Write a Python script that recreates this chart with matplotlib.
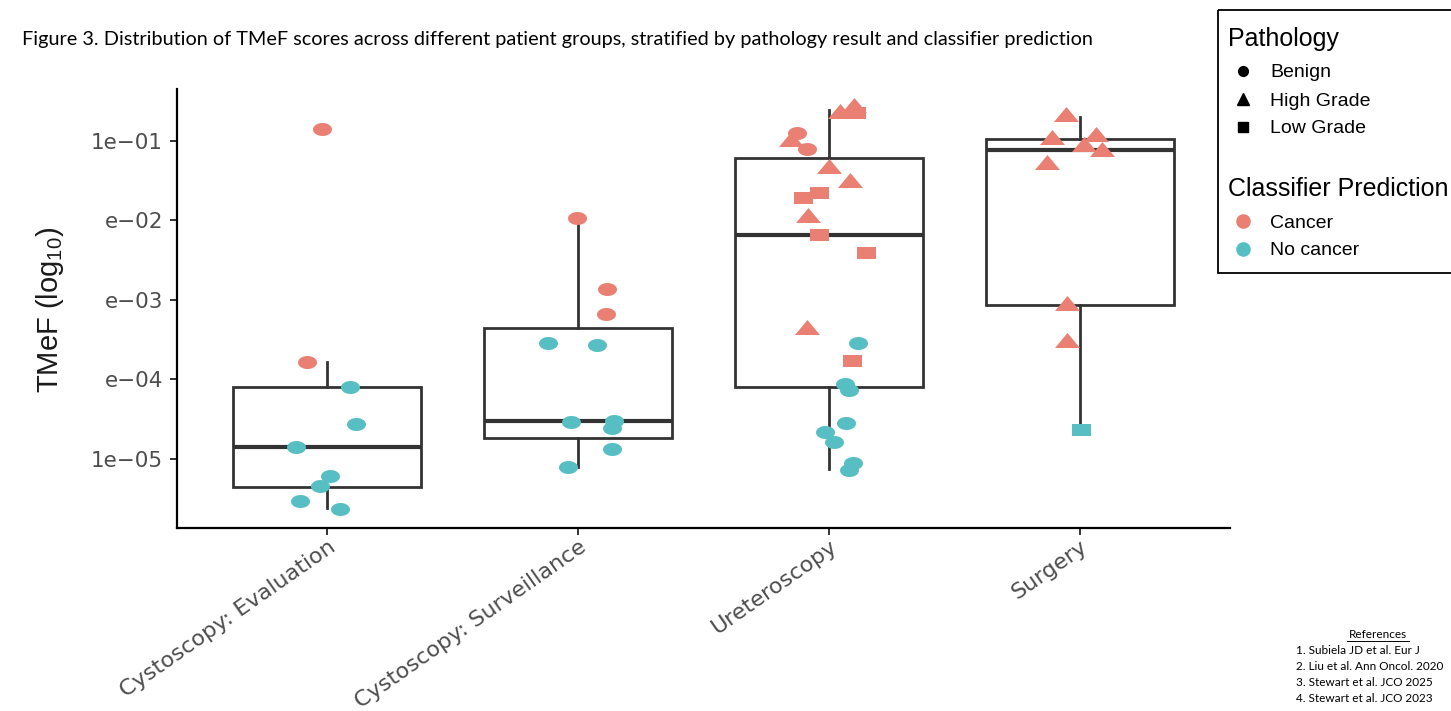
import numpy as np
import matplotlib
matplotlib.use("Agg")
import matplotlib.pyplot as plt
from matplotlib.path import Path
from matplotlib.patches import Rectangle
from matplotlib.ticker import NullLocator
from matplotlib.transforms import ScaledTranslation

plt.rcParams["mathtext.fontset"] = "custom"
plt.rcParams["mathtext.rm"] = "Liberation Sans"
plt.rcParams["mathtext.it"] = "Liberation Sans"

W, H, DPI = 1451, 711, 100

groups = ["Cystoscopy: Evaluation", "Cystoscopy: Surveillance", "Ureteroscopy", "Surgery"]

# box statistics, log10(TMeF)
box_lo = [-5.616, -5.097, -5.126, -4.635]
box_q1 = [-5.350, -4.736, -4.090, -3.063]
box_med = [-4.849, -4.518, -2.182, -1.117]
box_q3 = [-4.094, -3.356, -1.218, -0.971]
box_hi = [-3.780, -1.965, -0.610, -0.694]

# individual samples
pt_group = [1] * 9 + [2] * 10 + [3] * 23 + [4] * 9
pt_log_tmef = [
    -0.849, -3.776, -4.094, -4.556, -4.849, -5.214, -5.344, -5.528, -5.629,
    -1.965, -2.866, -3.180, -3.537, -3.570, -4.535, -4.518, -4.610, -4.878, -5.097,
    -0.619, -0.547, -0.652, -0.979, -0.903, -1.101, -1.314, -1.491, -1.650, -1.713,
    -1.931, -2.182, -2.413, -3.336, -3.545, -3.764, -4.061, -4.132, -4.551, -4.656,
    -4.782, -5.054, -5.138,
    -0.660, -0.946, -0.912, -1.038, -1.097, -1.260, -3.042, -3.503, -4.635,
]
pt_pathology = (
    ["Benign"] * 9
    + ["Benign"] * 10
    + ["High Grade", "High Grade", "Low Grade", "High Grade", "Benign", "Benign",
       "High Grade", "High Grade", "Low Grade", "Low Grade", "High Grade", "Low Grade",
       "Low Grade", "High Grade", "Benign", "Low Grade", "Benign", "Benign", "Benign",
       "Benign", "Benign", "Benign", "Benign"]
    + ["High Grade"] * 8 + ["Low Grade"]
)
pt_prediction = (
    ["Cancer"] * 2 + ["No cancer"] * 7
    + ["Cancer"] * 3 + ["No cancer"] * 7
    + ["Cancer"] * 14 + ["No cancer", "Cancer"] + ["No cancer"] * 7
    + ["Cancer"] * 8 + ["No cancer"]
)
pt_jitter = [
    -0.021, -0.081, 0.092, 0.114, -0.125, 0.011, -0.031, -0.108, 0.049,
    -0.006, 0.116, 0.110, -0.119, 0.075, -0.029, 0.142, 0.136, 0.136, -0.042,
    0.045, 0.099, 0.109, -0.152, -0.129, -0.088, -0.001, 0.083, -0.041, -0.105,
    -0.085, -0.041, 0.150, -0.088, 0.118, 0.093, 0.065, 0.079, 0.069, -0.016,
    0.021, 0.095, 0.079,
    -0.056, -0.108, 0.065, 0.017, 0.091, -0.129, -0.049, -0.052, 0.007,
]

ytick_vals = [1e-1, 1e-2, 1e-3, 1e-4, 1e-5]
ytick_labels = ["1e\u221201", "e\u221202", "e\u221203", "e\u221204", "1e\u221205"]

colors = {"Cancer": "#E98073", "No cancer": "#57BFC3"}
dark = "#333333"
gray_txt = "#4D4D4D"


def px_marker(verts):
    # marker path given in pixels; returns path and size in points
    verts = np.asarray(verts, float)
    size = 2 * np.abs(verts).max() * 72 / DPI
    return Path(np.vstack([verts, verts[:1]]), closed=True), size


t = np.linspace(0, 2 * np.pi, 64)[:-1]
shapes = {
    "Benign": px_marker(np.column_stack([9.5 * np.cos(t), 6.5 * np.sin(t)])),
    "High Grade": px_marker([(-12.5, -7.5), (12.5, -7.5), (0, 7.5)]),
    "Low Grade": px_marker([(-9.5, -6.5), (9.5, -6.5), (9.5, 6.5), (-9.5, 6.5)]),
}

fig = plt.figure(figsize=(W / DPI, H / DPI), dpi=DPI)
ax = fig.add_axes([177 / W, 1 - 528 / H, (1230 - 177) / W, (528 - 89) / H])

stats = []
for i in range(len(groups)):
    stats.append(dict(med=10 ** box_med[i], q1=10 ** box_q1[i], q3=10 ** box_q3[i],
                      whislo=10 ** box_lo[i], whishi=10 ** box_hi[i], fliers=[]))
ax.bxp(stats, positions=[1, 2, 3, 4], widths=0.75, showcaps=False, showfliers=False,
       patch_artist=True,
       boxprops=dict(facecolor="white", edgecolor=dark, linewidth=2.0),
       whiskerprops=dict(color=dark, linewidth=2.0),
       medianprops=dict(color=dark, linewidth=3.0, solid_capstyle="butt"))

xs = np.array(pt_group) + np.array(pt_jitter)
ys = 10 ** np.array(pt_log_tmef)
for i in range(len(xs)):
    path, size = shapes[pt_pathology[i]]
    ax.scatter(xs[i], ys[i], marker=path, s=size ** 2, color=colors[pt_prediction[i]],
               linewidths=0, zorder=3)

ax.set_yscale("log")
ax.set_ylim(10 ** -5.87, 10 ** -0.346)
ax.set_xlim(0.4, 4.6)
ax.set_yticks(ytick_vals)
ax.set_yticklabels(ytick_labels)
ax.yaxis.set_minor_locator(NullLocator())
ax.set_xticks([1, 2, 3, 4])
ax.set_xticklabels(groups, rotation=35, ha="right", va="top", rotation_mode="anchor")
for lbl in ax.get_xticklabels():
    lbl.set_transform(lbl.get_transform() + ScaledTranslation(17 / DPI, 0, fig.dpi_scale_trans))
ax.tick_params(axis="y", length=5, width=1.4, color=dark, labelsize=15.5, labelcolor=gray_txt, pad=5)
ax.tick_params(axis="x", length=5, width=1.4, color=dark, labelsize=16, labelcolor=gray_txt, pad=1)
for s in ["top", "right"]:
    ax.spines[s].set_visible(False)
for s in ["left", "bottom"]:
    ax.spines[s].set_linewidth(1.6)
    ax.spines[s].set_color("black")

# overlay in pixel coordinates for title, axis label, legend and references
ov = fig.add_axes([0, 0, 1, 1], zorder=5)
ov.set_xlim(0, W)
ov.set_ylim(H, 0)
ov.axis("off")
ov.patch.set_alpha(0)

ov.text(22, 40, "Figure 3. Distribution of TMeF scores across different patient groups, "
        "stratified by pathology result and classifier prediction",
        fontsize=14.3, family="Lato", ha="left", va="center")
ov.text(50, 310, r"TMeF (log$_{10}$)", rotation=90, ha="center", va="center",
        fontsize=21, family="Liberation Sans", color="#1A1A1A")

ov.add_patch(Rectangle((1218, 10), 300, 263, fill=False, edgecolor="black", linewidth=1.3,
                       clip_on=False))
leg_font = "Liberation Sans"
ov.text(1228, 46, "Pathology", fontsize=18, family=leg_font, va="baseline")
ov.plot(1243, 71, marker="o", ms=7, color="black", ls="none")
ov.plot(1243, 99, marker="^", ms=8, color="black", ls="none")
ov.plot(1243, 127, marker="s", ms=6.5, color="black", ls="none")
ov.text(1270, 77, "Benign", fontsize=14, family=leg_font, va="baseline")
ov.text(1270, 106, "High Grade", fontsize=14, family=leg_font, va="baseline")
ov.text(1270, 133, "Low Grade", fontsize=14, family=leg_font, va="baseline")
ov.text(1228, 196, "Classifier Prediction", fontsize=18, family=leg_font, va="baseline")
ov.plot(1243, 221, marker="o", ms=9.5, color=colors["Cancer"], ls="none")
ov.plot(1243, 249, marker="o", ms=9.5, color=colors["No cancer"], ls="none")
ov.text(1270, 228, "Cancer", fontsize=14, family=leg_font, va="baseline")
ov.text(1270, 255, "No cancer", fontsize=14, family=leg_font, va="baseline")

ref_lines = ["1. Subiela JD et al. Eur J", "2. Liu et al. Ann Oncol. 2020",
             "3. Stewart et al. JCO 2025", "4. Stewart et al. JCO 2023"]
ov.text(1378, 638, "References", fontsize=8.5, family="Lato", ha="center", va="baseline")
ov.plot([1347, 1409], [641, 641], color="black", lw=0.7)
for k, line in enumerate(ref_lines):
    ov.text(1296, 654 + 16 * k, line, fontsize=8.5, family="Lato", ha="left", va="baseline")

fig.savefig("out.png", dpi=DPI)
